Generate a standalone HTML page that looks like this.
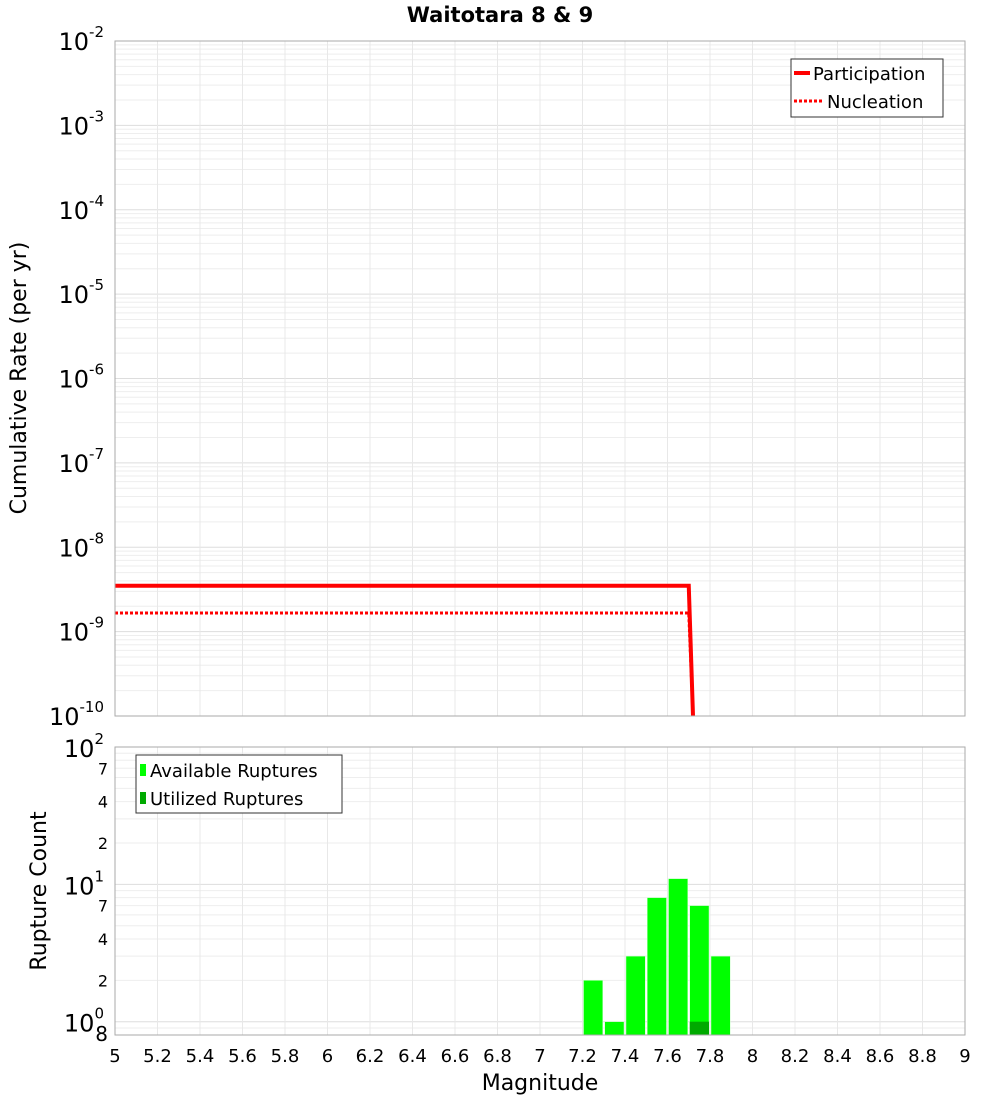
<!DOCTYPE html>
<html><head><meta charset="utf-8"><style>
body{margin:0;background:#fff;}
svg text{font-family:"DejaVu Sans","Liberation Sans",sans-serif;}
</style></head><body>
<svg id="chart" width="1000" height="1100" xmlns="http://www.w3.org/2000/svg"></svg>
<script>
const magTicks=[5,5.2,5.4,5.6,5.8,6,6.2,6.4,6.6,6.8,7,7.2,7.4,7.6,7.8,8,8.2,8.4,8.6,8.8,9];
const rateExps=[-2,-3,-4,-5,-6,-7,-8,-9,-10];
const partMags=[5,7.7,7.72];
const partRates=[3.5e-9,3.5e-9,1e-10];
const nuclMags=[5,7.7,7.72];
const nuclRates=[1.66e-9,1.66e-9,1e-10];
const binMags=[7.25,7.35,7.45,7.55,7.65,7.75,7.85];
const availCounts=[2,1,3,8,11,7,3];
const usedCounts=[0,0,0,0,0,1,0];
const countMinorLabels=[2,4,7];

const svg=document.getElementById('chart');
const NS='http://www.w3.org/2000/svg';
function el(tag,attrs,parent){const e=document.createElementNS(NS,tag);for(const k in attrs)e.setAttribute(k,attrs[k]);(parent||svg).appendChild(e);return e;}
const X0=115,X1=965;
const xs=m=>X0+(m-5)/4*(X1-X0);
const T0=41,T1=716;
const yTop=v=>T1-(Math.log10(v)+10)/8*(T1-T0);
const B0=747,B1=1035;
const lo=Math.log10(0.8);
const yBot=v=>B1-(Math.log10(v)-lo)/(2-lo)*(B1-B0);

let t=el('text',{x:500,y:22,'text-anchor':'middle','font-size':21,'font-weight':'bold'});t.textContent='Waitotara 8 & 9';


const g=el('g',{});
for(let e=-10;e<-2;e++)for(let k=1;k<10;k++){const y=yTop(k*Math.pow(10,e));el('line',{x1:X0,x2:X1,y1:y,y2:y,stroke:k==1?'#ddd':'#eee','stroke-width':1},g);}
for(let e=-1;e<2;e++)for(let k=1;k<10;k++){const v=k*Math.pow(10,e);if(v<0.8)continue;const y=yBot(v);el('line',{x1:X0,x2:X1,y1:y,y2:y,stroke:k==1?'#ddd':'#eee'},g);}
magTicks.forEach(m=>{const x=xs(m);el('line',{x1:x,x2:x,y1:T0,y2:T1,stroke:'#e8e8e8'},g);el('line',{x1:x,x2:x,y1:B0,y2:B1,stroke:'#e8e8e8'},g);});

rateExps.forEach(e=>{const y=yTop(Math.pow(10,e));const tx=el('text',{x:104,y:y+9,'text-anchor':'end','font-size':24});

tx.innerHTML='10<tspan dy="-13" font-size="15">'+e+'</tspan>';});
t=el('text',{x:26,y:378,'text-anchor':'middle','font-size':22,transform:'rotate(-90 26 378)'});t.textContent='Cumulative Rate (per yr)';


function pts(ms,rs){return ms.map((m,i)=>xs(m)+','+yTop(rs[i])).join(' ');}
let l=el('polyline',{points:pts(partMags,partRates),fill:'none',stroke:'#f00','stroke-width':4});

l=el('polyline',{points:pts(nuclMags,nuclRates),fill:'none',stroke:'#f00','stroke-width':3,'stroke-dasharray':'3,2'});

el('rect',{x:X0,y:T0,width:X1-X0,height:T1-T0,fill:'none',stroke:'#aaa'});

const lg=el('g',{});
el('rect',{x:791,y:59,width:152,height:58,fill:'#fff',stroke:'#333'},lg);
el('line',{x1:794,x2:810,y1:73,y2:73,stroke:'#f00','stroke-width':4},lg);
el('line',{x1:794,x2:822,y1:101,y2:101,stroke:'#f00','stroke-width':3,'stroke-dasharray':'3,2'},lg);
t=el('text',{x:813,y:80,'font-size':18},lg);t.textContent='Participation';
t=el('text',{x:827,y:108,'font-size':18},lg);t.textContent='Nucleation';

const bw=(xs(5.1)-xs(5))-2;
binMags.forEach((m,i)=>{const x=xs(m)-bw/2;
 const r=el('rect',{x:x,y:yBot(availCounts[i]),width:bw,height:B1-yBot(availCounts[i]),fill:'#00ff00',stroke:'#ccffcc','stroke-width':0.5});
 
 if(usedCounts[i]>0){const u=el('rect',{x:x,y:yBot(usedCounts[i]),width:bw,height:B1-yBot(usedCounts[i]),fill:'#00aa00'});
 }
});
el('rect',{x:X0,y:B0,width:X1-X0,height:B1-B0,fill:'none',stroke:'#aaa'});

[0,1,2].forEach(e=>{const y=yBot(Math.pow(10,e));const tx=el('text',{x:104,y:y+10,'text-anchor':'end','font-size':24});

tx.innerHTML='10<tspan dy="-13" font-size="15">'+e+'</tspan>';});
[0,1].forEach(e=>countMinorLabels.forEach(k=>{const y=yBot(k*Math.pow(10,e));const tx=el('text',{x:108,y:y+6,'text-anchor':'end','font-size':16});tx.textContent=k;}));
t=el('text',{x:108,y:1041,'text-anchor':'end','font-size':20});t.textContent='8';
t=el('text',{x:46,y:891,'text-anchor':'middle','font-size':22,transform:'rotate(-90 46 891)'});t.textContent='Rupture Count';


const bl=el('g',{});
el('rect',{x:136,y:755,width:206,height:58,fill:'#fff',stroke:'#333'},bl);
el('rect',{x:140,y:764,width:6,height:12,fill:'#00ff00'},bl);
el('rect',{x:140,y:792,width:6,height:12,fill:'#00aa00'},bl);
t=el('text',{x:150,y:777,'font-size':18},bl);t.textContent='Available Ruptures';
t=el('text',{x:150,y:805,'font-size':18},bl);t.textContent='Utilized Ruptures';

magTicks.forEach(m=>{const tx=el('text',{x:xs(m),y:1062,'text-anchor':'middle','font-size':18});tx.textContent=String(m);
});
t=el('text',{x:540,y:1090,'text-anchor':'middle','font-size':22});t.textContent='Magnitude';

</script>
</body></html>
